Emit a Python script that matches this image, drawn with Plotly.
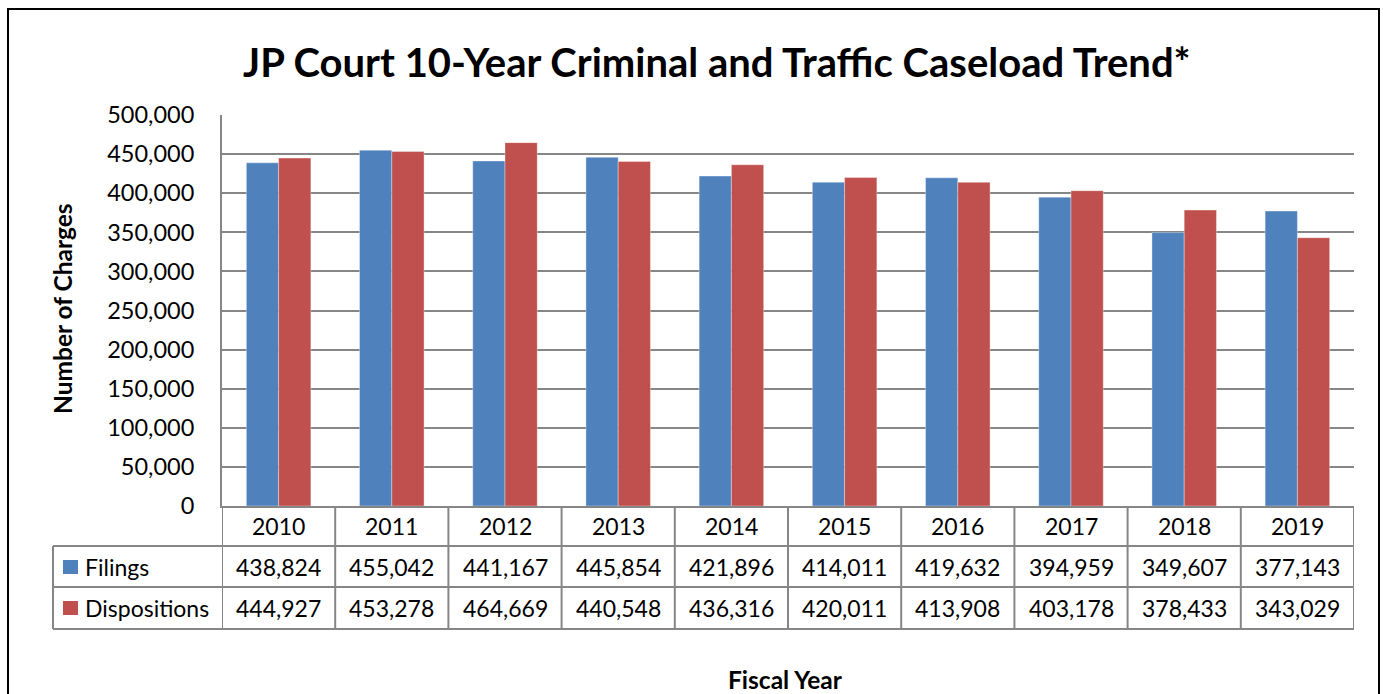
import plotly.graph_objects as go

years = ["2010", "2011", "2012", "2013", "2014", "2015", "2016", "2017", "2018", "2019"]
filings = [438824, 455042, 441167, 445854, 421896, 414011, 419632, 394959, 349607, 377143]
dispositions = [444927, 453278, 464669, 440548, 436316, 420011, 413908, 403178, 378433, 343029]
series_names = ["Filings", "Dispositions"]
series_colors = ["#4F81BD", "#C0504D"]
title_text = "JP Court 10-Year Criminal and Traffic Caseload Trend*"

W, H = 1383, 694
L, R, T, B = 222, 1354, 115, 506
FONT = "Lato"
GRID = "#868686"


def px2x(p):
    return (p - L) / (R - L)


def py2y(p):
    return (B - p) / (B - T)


fig = go.Figure()
for name, vals, col in zip(series_names, [filings, dispositions], series_colors):
    fig.add_trace(go.Bar(x=years, y=vals, name=name,
                         marker=dict(color=col, line=dict(width=1, color="rgba(255,255,255,0.35)"))))

shapes = []
annotations = []

# outer chart border
shapes.append(dict(type="rect", xref="paper", yref="paper",
                   x0=px2x(8), x1=px2x(1379), y0=py2y(9), y1=py2y(720),
                   line=dict(color="black", width=2), fillcolor="rgba(0,0,0,0)", layer="below"))

# data table lines
row_lines = [546, 587, 629]
for yy in row_lines:
    shapes.append(dict(type="line", xref="paper", yref="paper",
                       x0=px2x(53), x1=1, y0=py2y(yy), y1=py2y(yy),
                       line=dict(color=GRID, width=2)))
shapes.append(dict(type="line", xref="paper", yref="paper",
                   x0=px2x(53), x1=px2x(53), y0=py2y(546), y1=py2y(629),
                   line=dict(color=GRID, width=2)))
for i in range(len(years) + 1):
    shapes.append(dict(type="line", xref="x", yref="paper",
                       x0=i - 0.5, x1=i - 0.5, y0=py2y(506), y1=py2y(629),
                       line=dict(color=GRID, width=2)))

cell_font = dict(family=FONT, size=23, color="black")
row_centers = [567, 608]
for i, yr in enumerate(years):
    annotations.append(dict(x=i, y=py2y(526), xref="x", yref="paper", text=yr,
                            xanchor="center", yanchor="middle", showarrow=False, font=cell_font))
    for vals, yc in zip([filings, dispositions], row_centers):
        annotations.append(dict(x=i, y=py2y(yc), xref="x", yref="paper", text=f"{vals[i]:,}",
                                xanchor="center", yanchor="middle", showarrow=False, font=cell_font))

for name, col, yc in zip(series_names, series_colors, row_centers):
    shapes.append(dict(type="rect", xref="paper", yref="paper",
                       x0=px2x(63), x1=px2x(78), y0=py2y(yc - 7), y1=py2y(yc + 7),
                       line=dict(width=0), fillcolor=col))
    annotations.append(dict(x=px2x(83), y=py2y(yc), xref="paper", yref="paper", text=name,
                            xanchor="left", yanchor="middle", showarrow=False, font=cell_font))

# titles
annotations.append(dict(x=px2x(717), y=py2y(62), xref="paper", yref="paper",
                        text="<b>" + title_text + "</b>", showarrow=False,
                        xanchor="center", yanchor="middle",
                        font=dict(family=FONT, size=40, color="black")))
annotations.append(dict(x=px2x(62), y=py2y(309), xref="paper", yref="paper",
                        text="<b>Number of Charges</b>", textangle=-90, showarrow=False,
                        xanchor="center", yanchor="middle",
                        font=dict(family=FONT, size=24.5, color="black")))
annotations.append(dict(x=px2x(785), y=py2y(679), xref="paper", yref="paper",
                        text="<b>Fiscal Year</b>", showarrow=False,
                        xanchor="center", yanchor="middle",
                        font=dict(family=FONT, size=24.5, color="black")))

fig.update_layout(
    width=W, height=H,
    margin=dict(l=L, r=W - R, t=T, b=H - B, pad=0),
    paper_bgcolor="white", plot_bgcolor="white",
    barmode="group", bargap=0.43, bargroupgap=0,
    showlegend=False,
    shapes=shapes, annotations=annotations,
    font=dict(family=FONT, color="black"),
)
fig.update_xaxes(showticklabels=False, showgrid=False, showline=True, linecolor=GRID, linewidth=2,
                 range=[-0.5, len(years) - 0.5], ticks="")
fig.update_yaxes(range=[0, 500000], dtick=50000, tickformat=",", showgrid=True, gridcolor=GRID,
                 gridwidth=2, showline=True, linecolor=GRID, linewidth=2, zeroline=False,
                 ticks="", ticklabelstandoff=21, tickfont=dict(family=FONT, size=23.5, color="black"))

fig.write_html("out.html")
